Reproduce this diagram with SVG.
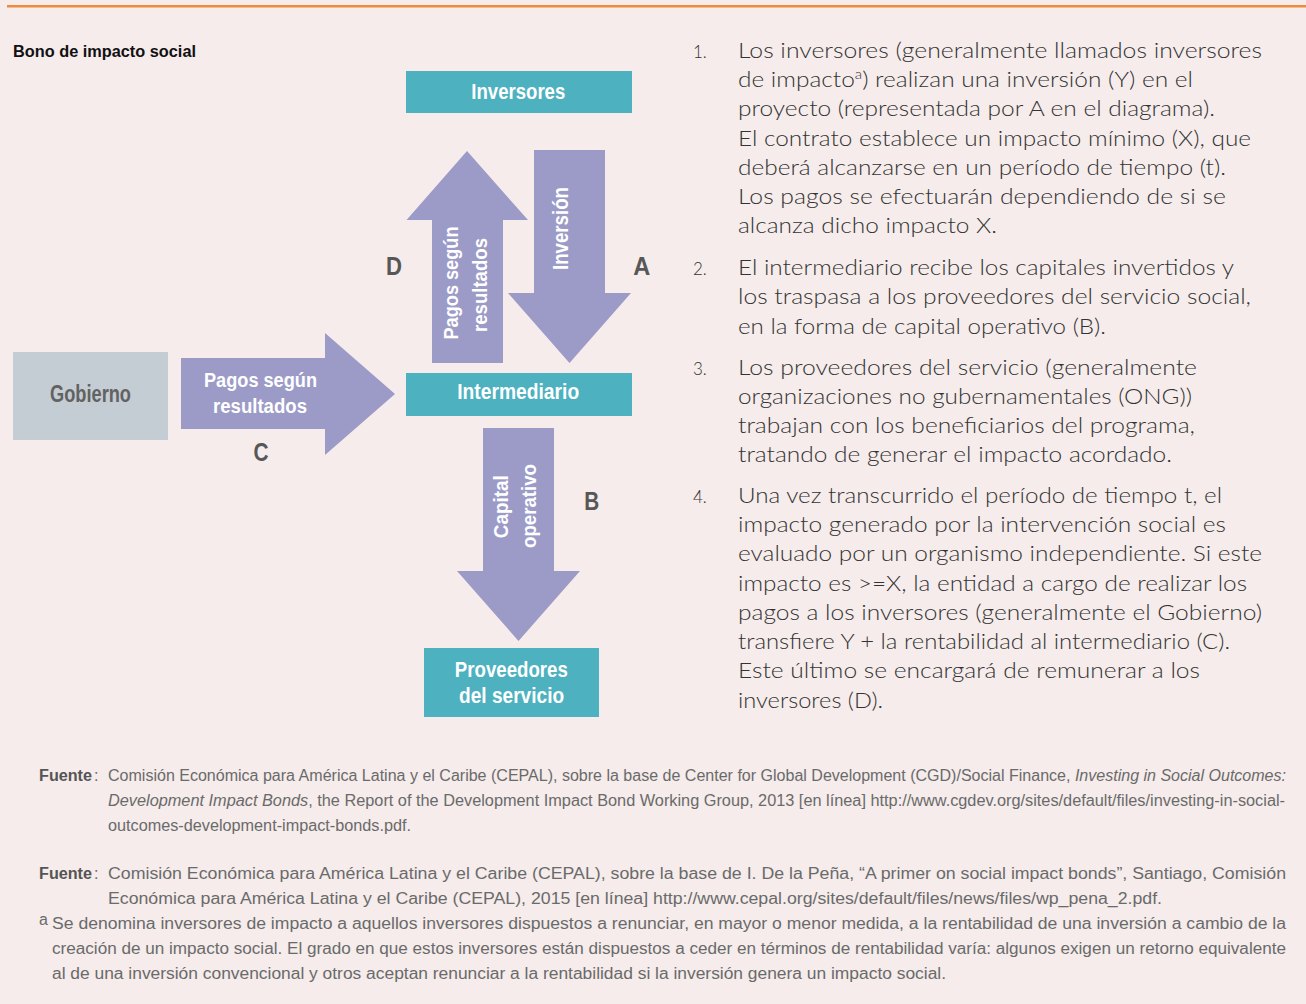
<svg xmlns="http://www.w3.org/2000/svg" width="1306" height="1004" viewBox="0 0 1306 1004">
<style>
.cb{font-family:"Liberation Sans",Arial,sans-serif;font-weight:bold}
.wt{fill:#ffffff}
.lbl{fill:#575757;font-size:26px;text-anchor:middle}
.box{fill:#4db1bf}
.arr{fill:#9c9bc8}
.body{font-family:Lato,"Open Sans","Liberation Sans",sans-serif;font-weight:300;font-size:21px;fill:#333333}
.num{font-family:Lato,"Open Sans","Liberation Sans",sans-serif;font-weight:300;font-size:17px;fill:#333333}
.ft{font-family:"Liberation Sans",Arial,sans-serif;font-size:16px;fill:#6a6a6a}
.fb{font-weight:bold;fill:#555555}
.it{font-style:italic}
</style>
<rect x="0" y="0" width="1306" height="1004" fill="#f5eceb"/>
<rect x="7" y="5" width="1299" height="2.5" fill="#f08a3c"/>
<text class="cb" x="13" y="57" font-size="17" fill="#111111" textLength="183" lengthAdjust="spacingAndGlyphs">Bono de impacto social</text>

<g id="connectors">
  <polygon id="arrow-D" class="arr" points="467,151 528,220 503,220 503,363 432,363 432,220 406.5,220"/>
  <polygon id="arrow-A" class="arr" points="534,150 605,150 605,293 631,293 569.5,363 508,293 534,293"/>
  <polygon id="arrow-C" class="arr" points="181,358 325,358 325,333 395,394 325,455 325,429 181,429"/>
  <polygon id="arrow-B" class="arr" points="483,428 554,428 554,571 580,571 518.5,641 457,571 483,571"/>
  <text class="cb wt" font-size="20" text-anchor="middle" transform="translate(458,283) rotate(-90)" textLength="113" lengthAdjust="spacingAndGlyphs">Pagos según</text>
  <text class="cb wt" font-size="20" text-anchor="middle" transform="translate(487,285) rotate(-90)" textLength="94" lengthAdjust="spacingAndGlyphs">resultados</text>
  <text class="cb wt" font-size="22" text-anchor="middle" transform="translate(568,228.5) rotate(-90)" textLength="83" lengthAdjust="spacingAndGlyphs">Inversión</text>
  <text class="cb wt" font-size="20" text-anchor="middle" x="260.5" y="387" textLength="113" lengthAdjust="spacingAndGlyphs">Pagos según</text>
  <text class="cb wt" font-size="20" text-anchor="middle" x="260" y="413" textLength="94" lengthAdjust="spacingAndGlyphs">resultados</text>
  <text class="cb wt" font-size="20" text-anchor="middle" transform="translate(508,506.7) rotate(-90)" textLength="63" lengthAdjust="spacingAndGlyphs">Capital</text>
  <text class="cb wt" font-size="20" text-anchor="middle" transform="translate(536,506) rotate(-90)" textLength="84" lengthAdjust="spacingAndGlyphs">operativo</text>
  <text class="cb lbl" x="394" y="275" textLength="16" lengthAdjust="spacingAndGlyphs">D</text>
  <text class="cb lbl" x="641.7" y="275" textLength="17" lengthAdjust="spacingAndGlyphs">A</text>
  <text class="cb lbl" x="261" y="461" textLength="15" lengthAdjust="spacingAndGlyphs">C</text>
  <text class="cb lbl" x="591.7" y="510" textLength="15" lengthAdjust="spacingAndGlyphs">B</text>
</g>

<g id="inversores">
  <rect class="box" x="406" y="71" width="226" height="42"/>
  <text class="cb wt" font-size="22" text-anchor="middle" x="518.3" y="99" textLength="94" lengthAdjust="spacingAndGlyphs">Inversores</text>
</g>
<g id="intermediario">
  <rect class="box" x="406" y="373" width="226" height="43"/>
  <text class="cb wt" font-size="22" text-anchor="middle" x="518.2" y="399.3" textLength="122" lengthAdjust="spacingAndGlyphs">Intermediario</text>
</g>
<g id="gobierno">
  <rect x="13" y="352" width="155" height="88" fill="#c4cdd3"/>
  <text class="cb" font-size="23" fill="#626262" text-anchor="middle" x="90.5" y="402" textLength="81" lengthAdjust="spacingAndGlyphs">Gobierno</text>
</g>
<g id="proveedores">
  <rect class="box" x="424" y="648" width="175" height="69"/>
  <text class="cb wt" font-size="22" text-anchor="middle" x="511.3" y="677.3" textLength="113" lengthAdjust="spacingAndGlyphs">Proveedores</text>
  <text class="cb wt" font-size="22" text-anchor="middle" x="511.6" y="703.3" textLength="105" lengthAdjust="spacingAndGlyphs">del servicio</text>
</g>

<g id="explicacion">
  <text class="num" x="693" y="58">1.</text>
  <text class="body" x="738" y="58" textLength="524" lengthAdjust="spacingAndGlyphs">Los inversores (generalmente llamados inversores</text>
  <text class="body" x="738" y="87" textLength="455" lengthAdjust="spacingAndGlyphs">de impacto<tspan font-size="13" dy="-8">a</tspan><tspan dy="8">) realizan una inversión (Y) en el</tspan></text>
  <text class="body" x="738" y="116" textLength="477" lengthAdjust="spacingAndGlyphs">proyecto (representada por A en el diagrama).</text>
  <text class="body" x="738" y="146" textLength="513" lengthAdjust="spacingAndGlyphs">El contrato establece un impacto mínimo (X), que</text>
  <text class="body" x="738" y="175" textLength="488" lengthAdjust="spacingAndGlyphs">deberá alcanzarse en un período de tiempo (t).</text>
  <text class="body" x="738" y="204" textLength="488" lengthAdjust="spacingAndGlyphs">Los pagos se efectuarán dependiendo de si se</text>
  <text class="body" x="738" y="233" textLength="259" lengthAdjust="spacingAndGlyphs">alcanza dicho impacto X.</text>

  <text class="num" x="693" y="275">2.</text>
  <text class="body" x="738" y="275" textLength="496" lengthAdjust="spacingAndGlyphs">El intermediario recibe los capitales invertidos y</text>
  <text class="body" x="738" y="304" textLength="513" lengthAdjust="spacingAndGlyphs">los traspasa a los proveedores del servicio social,</text>
  <text class="body" x="738" y="334" textLength="368" lengthAdjust="spacingAndGlyphs">en la forma de capital operativo (B).</text>

  <text class="num" x="693" y="375">3.</text>
  <text class="body" x="738" y="375" textLength="459" lengthAdjust="spacingAndGlyphs">Los proveedores del servicio (generalmente</text>
  <text class="body" x="738" y="404" textLength="454" lengthAdjust="spacingAndGlyphs">organizaciones no gubernamentales (ONG))</text>
  <text class="body" x="738" y="433" textLength="457" lengthAdjust="spacingAndGlyphs">trabajan con los beneficiarios del programa,</text>
  <text class="body" x="738" y="462" textLength="434" lengthAdjust="spacingAndGlyphs">tratando de generar el impacto acordado.</text>

  <text class="num" x="693" y="503">4.</text>
  <text class="body" x="738" y="503" textLength="484" lengthAdjust="spacingAndGlyphs">Una vez transcurrido el período de tiempo t, el</text>
  <text class="body" x="738" y="532" textLength="488" lengthAdjust="spacingAndGlyphs">impacto generado por la intervención social es</text>
  <text class="body" x="738" y="561" textLength="524" lengthAdjust="spacingAndGlyphs">evaluado por un organismo independiente. Si este</text>
  <text class="body" x="738" y="591" textLength="509" lengthAdjust="spacingAndGlyphs">impacto es &gt;=X, la entidad a cargo de realizar los</text>
  <text class="body" x="738" y="620" textLength="524" lengthAdjust="spacingAndGlyphs">pagos a los inversores (generalmente el Gobierno)</text>
  <text class="body" x="738" y="649" textLength="492" lengthAdjust="spacingAndGlyphs">transfiere Y + la rentabilidad al intermediario (C).</text>
  <text class="body" x="738" y="678" textLength="462" lengthAdjust="spacingAndGlyphs">Este último se encargará de remunerar a los</text>
  <text class="body" x="738" y="708" textLength="145" lengthAdjust="spacingAndGlyphs">inversores (D).</text>
</g>

<g id="fuentes">
  <text class="ft fb" x="39" y="781" font-size="17" textLength="53" lengthAdjust="spacingAndGlyphs">Fuente</text>
  <text class="ft" x="94" y="781">:</text>
  <text class="ft" x="108" y="781" textLength="1178" lengthAdjust="spacingAndGlyphs">Comisión Económica para América Latina y el Caribe (CEPAL), sobre la base de Center for Global Development (CGD)/Social Finance, <tspan class="it">Investing in Social Outcomes:</tspan></text>
  <text class="ft" x="108" y="806" textLength="1177" lengthAdjust="spacingAndGlyphs"><tspan class="it">Development Impact Bonds</tspan>, the Report of the Development Impact Bond Working Group, 2013 [en línea] http://www.cgdev.org/sites/default/files/investing-in-social-</text>
  <text class="ft" x="108" y="831" textLength="303" lengthAdjust="spacingAndGlyphs">outcomes-development-impact-bonds.pdf.</text>

  <text class="ft fb" x="39" y="879" font-size="17" textLength="53" lengthAdjust="spacingAndGlyphs">Fuente</text>
  <text class="ft" x="94" y="879">:</text>
  <text class="ft" x="108" y="879" textLength="1178" lengthAdjust="spacingAndGlyphs">Comisión Económica para América Latina y el Caribe (CEPAL), sobre la base de I. De la Peña, “A primer on social impact bonds”, Santiago, Comisión</text>
  <text class="ft" x="108" y="904" textLength="1054" lengthAdjust="spacingAndGlyphs">Económica para América Latina y el Caribe (CEPAL), 2015 [en línea] http://www.cepal.org/sites/default/files/news/files/wp_pena_2.pdf.</text>

  <text class="ft" x="39" y="925" font-size="10">a</text>
  <text class="ft" x="52" y="929" textLength="1234" lengthAdjust="spacingAndGlyphs">Se denomina inversores de impacto a aquellos inversores dispuestos a renunciar, en mayor o menor medida, a la rentabilidad de una inversión a cambio de la</text>
  <text class="ft" x="52" y="954" textLength="1234" lengthAdjust="spacingAndGlyphs">creación de un impacto social. El grado en que estos inversores están dispuestos a ceder en términos de rentabilidad varía: algunos exigen un retorno equivalente</text>
  <text class="ft" x="52" y="979" textLength="894" lengthAdjust="spacingAndGlyphs">al de una inversión convencional y otros aceptan renunciar a la rentabilidad si la inversión genera un impacto social.</text>
</g>
</svg>
